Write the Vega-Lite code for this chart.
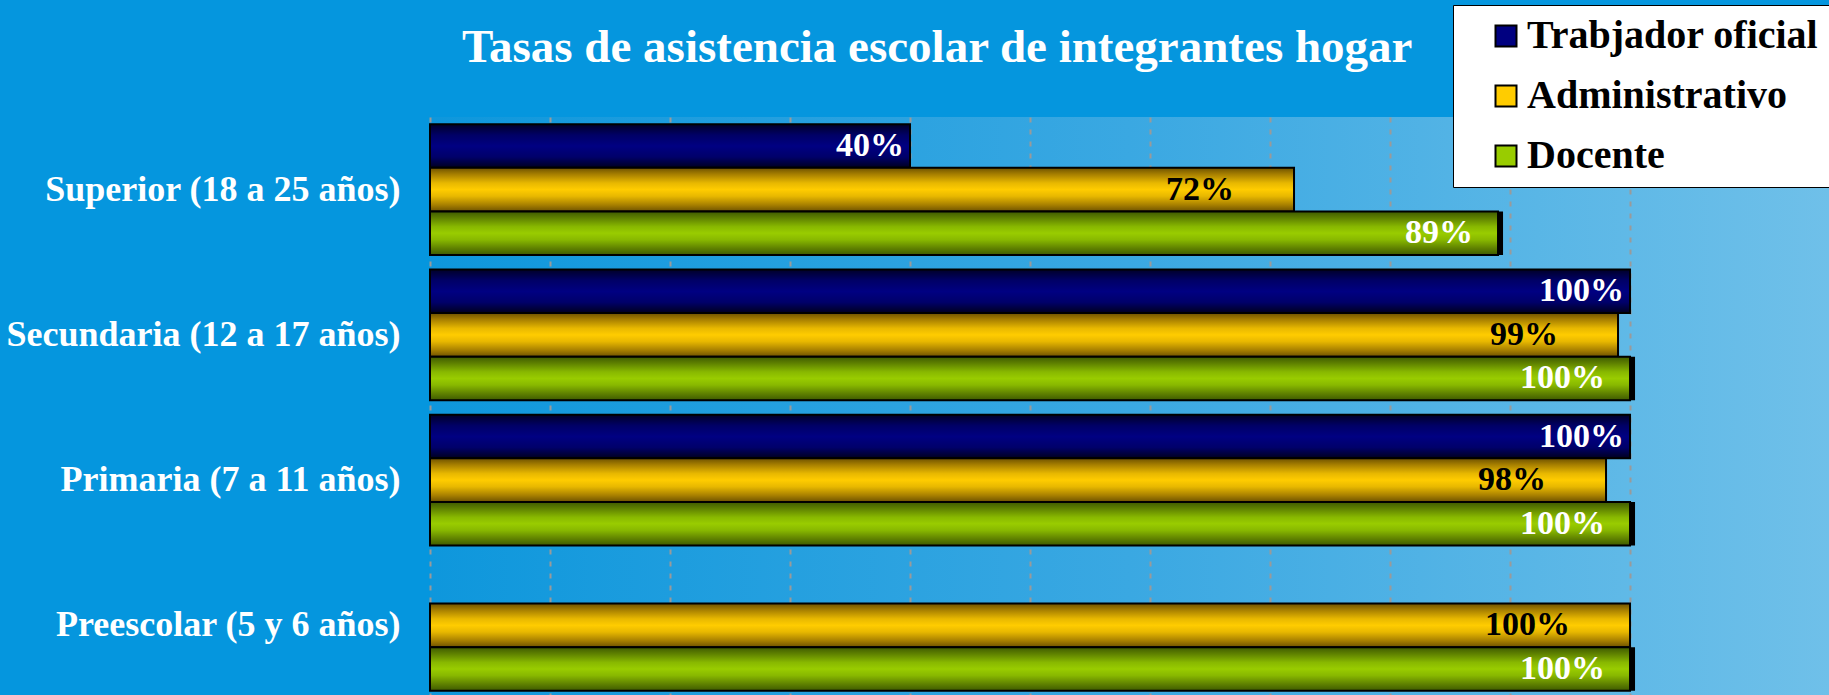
{
  "$schema": "https://vega.github.io/schema/vega-lite/v6.json",
  "width": 1399,
  "height": 581,
  "autosize": {"type": "none"},
  "padding": {"left": 430, "top": 117, "right": 0, "bottom": 0},
  "background": "#0596de",
  "title": {
    "text": "Tasas de asistencia escolar de integrantes hogar",
    "font": "Liberation Serif",
    "fontSize": 47,
    "fontWeight": "bold",
    "color": "white",
    "anchor": "start",
    "frame": "group",
    "dx": 32,
    "baseline": "alphabetic",
    "offset": -104
  },
  "data": {
    "values": [
      {"nivel": "Superior (18 a 25 años)", "tipo": "Trabjador oficial", "pct": 0.40},
      {"nivel": "Superior (18 a 25 años)", "tipo": "Administrativo", "pct": 0.72},
      {"nivel": "Superior (18 a 25 años)", "tipo": "Docente", "pct": 0.89},
      {"nivel": "Secundaria (12 a 17 años)", "tipo": "Trabjador oficial", "pct": 1.00},
      {"nivel": "Secundaria (12 a 17 años)", "tipo": "Administrativo", "pct": 0.99},
      {"nivel": "Secundaria (12 a 17 años)", "tipo": "Docente", "pct": 1.00},
      {"nivel": "Primaria (7 a 11 años)", "tipo": "Trabjador oficial", "pct": 1.00},
      {"nivel": "Primaria (7 a 11 años)", "tipo": "Administrativo", "pct": 0.98},
      {"nivel": "Primaria (7 a 11 años)", "tipo": "Docente", "pct": 1.00},
      {"nivel": "Preescolar (5 y 6 años)", "tipo": "Administrativo", "pct": 1.00},
      {"nivel": "Preescolar (5 y 6 años)", "tipo": "Docente", "pct": 1.00}
    ]
  },
  "encoding": {
    "y": {
      "field": "nivel",
      "type": "nominal",
      "sort": ["Superior (18 a 25 años)", "Secundaria (12 a 17 años)", "Primaria (7 a 11 años)", "Preescolar (5 y 6 años)"],
      "scale": {"paddingInner": 0.1, "paddingOuter": 0.05},
      "title": null,
      "axis": {
        "ticks": false,
        "domain": false,
        "labelFont": "Liberation Serif",
        "labelFontSize": 36,
        "labelFontWeight": "bold",
        "labelColor": "white",
        "labelPadding": 30,
        "labelLimit": 0
      }
    },
    "yOffset": {
      "field": "tipo",
      "type": "nominal",
      "sort": ["Trabjador oficial", "Administrativo", "Docente"],
      "scale": {"paddingInner": 0, "paddingOuter": 0}
    },
    "x": {
      "field": "pct",
      "type": "quantitative",
      "scale": {"domain": [0, 1.1658], "nice": false, "zero": true},
      "title": null,
      "axis": {
        "values": [0, 0.1, 0.2, 0.3, 0.4, 0.5, 0.6, 0.7, 0.8, 0.9, 1.0],
        "labels": false,
        "ticks": false,
        "domain": false,
        "grid": true,
        "gridColor": "#9a9a9a",
        "gridDash": [5, 7],
        "gridWidth": 2
      }
    }
  },
  "layer": [
    {
      "transform": [{"filter": "datum.tipo === 'Docente'"}],
      "mark": {"type": "bar", "fill": "black", "xOffset": 5, "x2Offset": 5, "yOffset": 5, "y2Offset": 5}
    },
    {
      "mark": {"type": "bar", "stroke": "black", "strokeWidth": 2},
      "encoding": {
        "fill": {
          "condition": [
            {"test": "datum.tipo === 'Trabjador oficial'", "value": {"gradient": "linear", "x1": 0, "y1": 0, "x2": 0, "y2": 1, "stops": [{"offset": 0, "color": "#000028"}, {"offset": 0.25, "color": "#000066"}, {"offset": 0.5, "color": "#000082"}, {"offset": 0.75, "color": "#00006a"}, {"offset": 1, "color": "#00001e"}]}},
            {"test": "datum.tipo === 'Administrativo'", "value": {"gradient": "linear", "x1": 0, "y1": 0, "x2": 0, "y2": 1, "stops": [{"offset": 0, "color": "#6e5200"}, {"offset": 0.15, "color": "#a88000"}, {"offset": 0.35, "color": "#e8b800"}, {"offset": 0.5, "color": "#ffcc00"}, {"offset": 0.65, "color": "#e8b800"}, {"offset": 0.85, "color": "#a88000"}, {"offset": 1, "color": "#6e5200"}]}},
            {"test": "datum.tipo === 'Docente'", "value": {"gradient": "linear", "x1": 0, "y1": 0, "x2": 0, "y2": 1, "stops": [{"offset": 0, "color": "#3e5a00"}, {"offset": 0.15, "color": "#5e8000"}, {"offset": 0.35, "color": "#88b800"}, {"offset": 0.5, "color": "#99cc00"}, {"offset": 0.65, "color": "#88b800"}, {"offset": 0.85, "color": "#5e8000"}, {"offset": 1, "color": "#3e5a00"}]}}
          ],
          "field": "tipo",
          "type": "nominal",
          "scale": {"domain": ["Trabjador oficial", "Administrativo", "Docente"], "range": ["#000080", "#ffcc00", "#99cc00"]},
          "legend": {
            "title": null,
            "orient": "none",
            "legendX": 1023,
            "legendY": -112,
            "fillColor": "white",
            "strokeColor": "black",
            "padding": 11,
            "symbolType": "square",
            "symbolSize": 441,
            "symbolStrokeColor": "black",
            "symbolStrokeWidth": 2,
            "symbolOffset": 22,
            "labelFont": "Liberation Serif",
            "labelFontSize": 40,
            "labelFontWeight": "bold",
            "labelColor": "black",
            "labelOffset": 1,
            "labelLimit": 0,
            "rowPadding": 20
          }
        }
      }
    },
    {
      "transform": [{"filter": "datum.tipo === 'Trabjador oficial'"}],
      "mark": {"type": "text", "align": "right", "baseline": "middle", "dx": -6, "font": "Liberation Serif", "fontSize": 34, "fontWeight": "bold", "color": "white"},
      "encoding": {"text": {"field": "pct", "type": "quantitative", "format": ".0%"}}
    },
    {
      "transform": [{"filter": "datum.tipo === 'Administrativo'"}],
      "mark": {"type": "text", "align": "right", "baseline": "middle", "dx": -60, "font": "Liberation Serif", "fontSize": 34, "fontWeight": "bold", "color": "black"},
      "encoding": {"text": {"field": "pct", "type": "quantitative", "format": ".0%"}}
    },
    {
      "transform": [{"filter": "datum.tipo === 'Docente'"}],
      "mark": {"type": "text", "align": "right", "baseline": "middle", "dx": -25, "font": "Liberation Serif", "fontSize": 34, "fontWeight": "bold", "color": "white"},
      "encoding": {"text": {"field": "pct", "type": "quantitative", "format": ".0%"}}
    }
  ],
  "config": {
    "view": {
      "stroke": null,
      "fill": {"gradient": "linear", "x1": 0, "y1": 0, "x2": 1, "y2": 0, "stops": [{"offset": 0, "color": "#0e97dc"}, {"offset": 0.5, "color": "#3aa8e2"}, {"offset": 1, "color": "#6fc0e9"}]}
    }
  }
}
